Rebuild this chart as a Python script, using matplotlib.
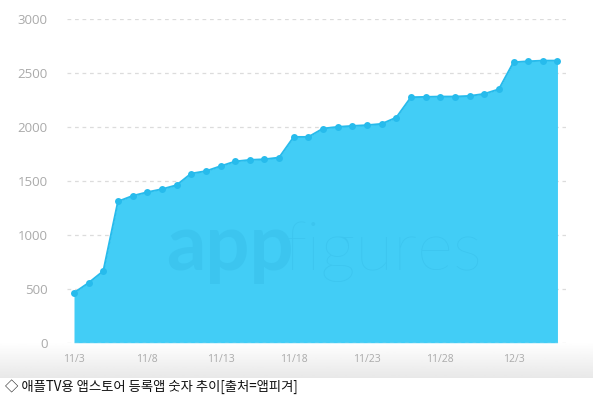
"""Apple TV App Store app count trend (appfigures) recreation."""

import matplotlib

matplotlib.use("Agg")
import matplotlib.pyplot as plt
import numpy as np

days = [
    "11/3", "11/4", "11/5", "11/6", "11/7", "11/8", "11/9", "11/10",
    "11/11", "11/12", "11/13", "11/14", "11/15", "11/16", "11/17", "11/18",
    "11/19", "11/20", "11/21", "11/22", "11/23", "11/24", "11/25", "11/26",
    "11/27", "11/28", "11/29", "11/30", "12/1", "12/2", "12/3", "12/4",
    "12/5", "12/6",
]
app_counts = [
    462, 555, 664, 1309, 1361, 1395, 1423, 1460,
    1568, 1590, 1636, 1680, 1694, 1700, 1716, 1907,
    1907, 1985, 2000, 2009, 2016, 2028, 2087, 2275,
    2278, 2281, 2281, 2287, 2306, 2349, 2599, 2608,
    2614, 2614,
]
y_ticks = [0, 500, 1000, 1500, 2000, 2500, 3000]
caption = "◇ 애플TV용 앱스토어 등록앱 숫자 추이[출처=앱피겨]"

FILL = "#42cdf6"
LINE = "#27bbec"
MARK = "#3cc5ef"
TICK = "#aaaaaa"

W, H = 593, 400
fig = plt.figure(figsize=(W / 100, H / 100), dpi=100)

# soft grey band under the plot
band = fig.add_axes([0, 22 / H, 1, 36 / H])
grad = np.linspace(1.0, 0.91, 64).reshape(-1, 1)
band.imshow(grad, aspect="auto", cmap="gray", vmin=0, vmax=1,
            extent=(0, 1, 0, 1), origin="upper")
band.set_axis_off()

ax = fig.add_axes([67 / W, (H - 342.7) / H, (566 - 67) / W, (342.7 - 19) / H])
ax.patch.set_alpha(0)
x = np.arange(len(days))
ax.fill_between(x, app_counts, 0, color=FILL, linewidth=0, zorder=2)
ax.plot(x, app_counts, color=LINE, linewidth=1.4, marker="o",
        markersize=5, markeredgewidth=0, zorder=3)

ax.text(6.3, 670, "app", fontsize=56, fontweight="bold", family="Lato",
        color=MARK, ha="left", va="baseline", zorder=2.5)
ax.text(14.35, 670, "figures", fontsize=50, fontweight="light", family="Lato",
        color=MARK, ha="left", va="baseline", zorder=2.5)

ax.set_xlim((67 - 74) / 14.65, (566 - 74) / 14.65)
ax.set_ylim(0, 3000)
for yv in y_ticks:
    ax.axhline(yv, color="#dcdcdc", linewidth=0.9, linestyle=(0, (3, 3)),
               zorder=1 if yv else 4)
ax.set_yticks(y_ticks)
ax.set_yticklabels([str(v) for v in y_ticks])
ax.set_xticks(x[::5])
ax.set_xticklabels(days[::5])
ax.tick_params(axis="y", length=0, pad=14, labelsize=9.5, labelcolor=TICK)
ax.tick_params(axis="x", length=0, pad=8, labelsize=7.5, labelcolor=TICK)
for lbl in ax.get_yticklabels() + ax.get_xticklabels():
    lbl.set_family("Open Sans")
for spine in ax.spines.values():
    spine.set_visible(False)

fig.text(5 / W, (H - 387) / H, caption, fontsize=9.6,
         family=["Noto Sans CJK KR", "DejaVu Sans"], color="#111111",
         ha="left", va="center")

fig.savefig("out.png", dpi=100)
